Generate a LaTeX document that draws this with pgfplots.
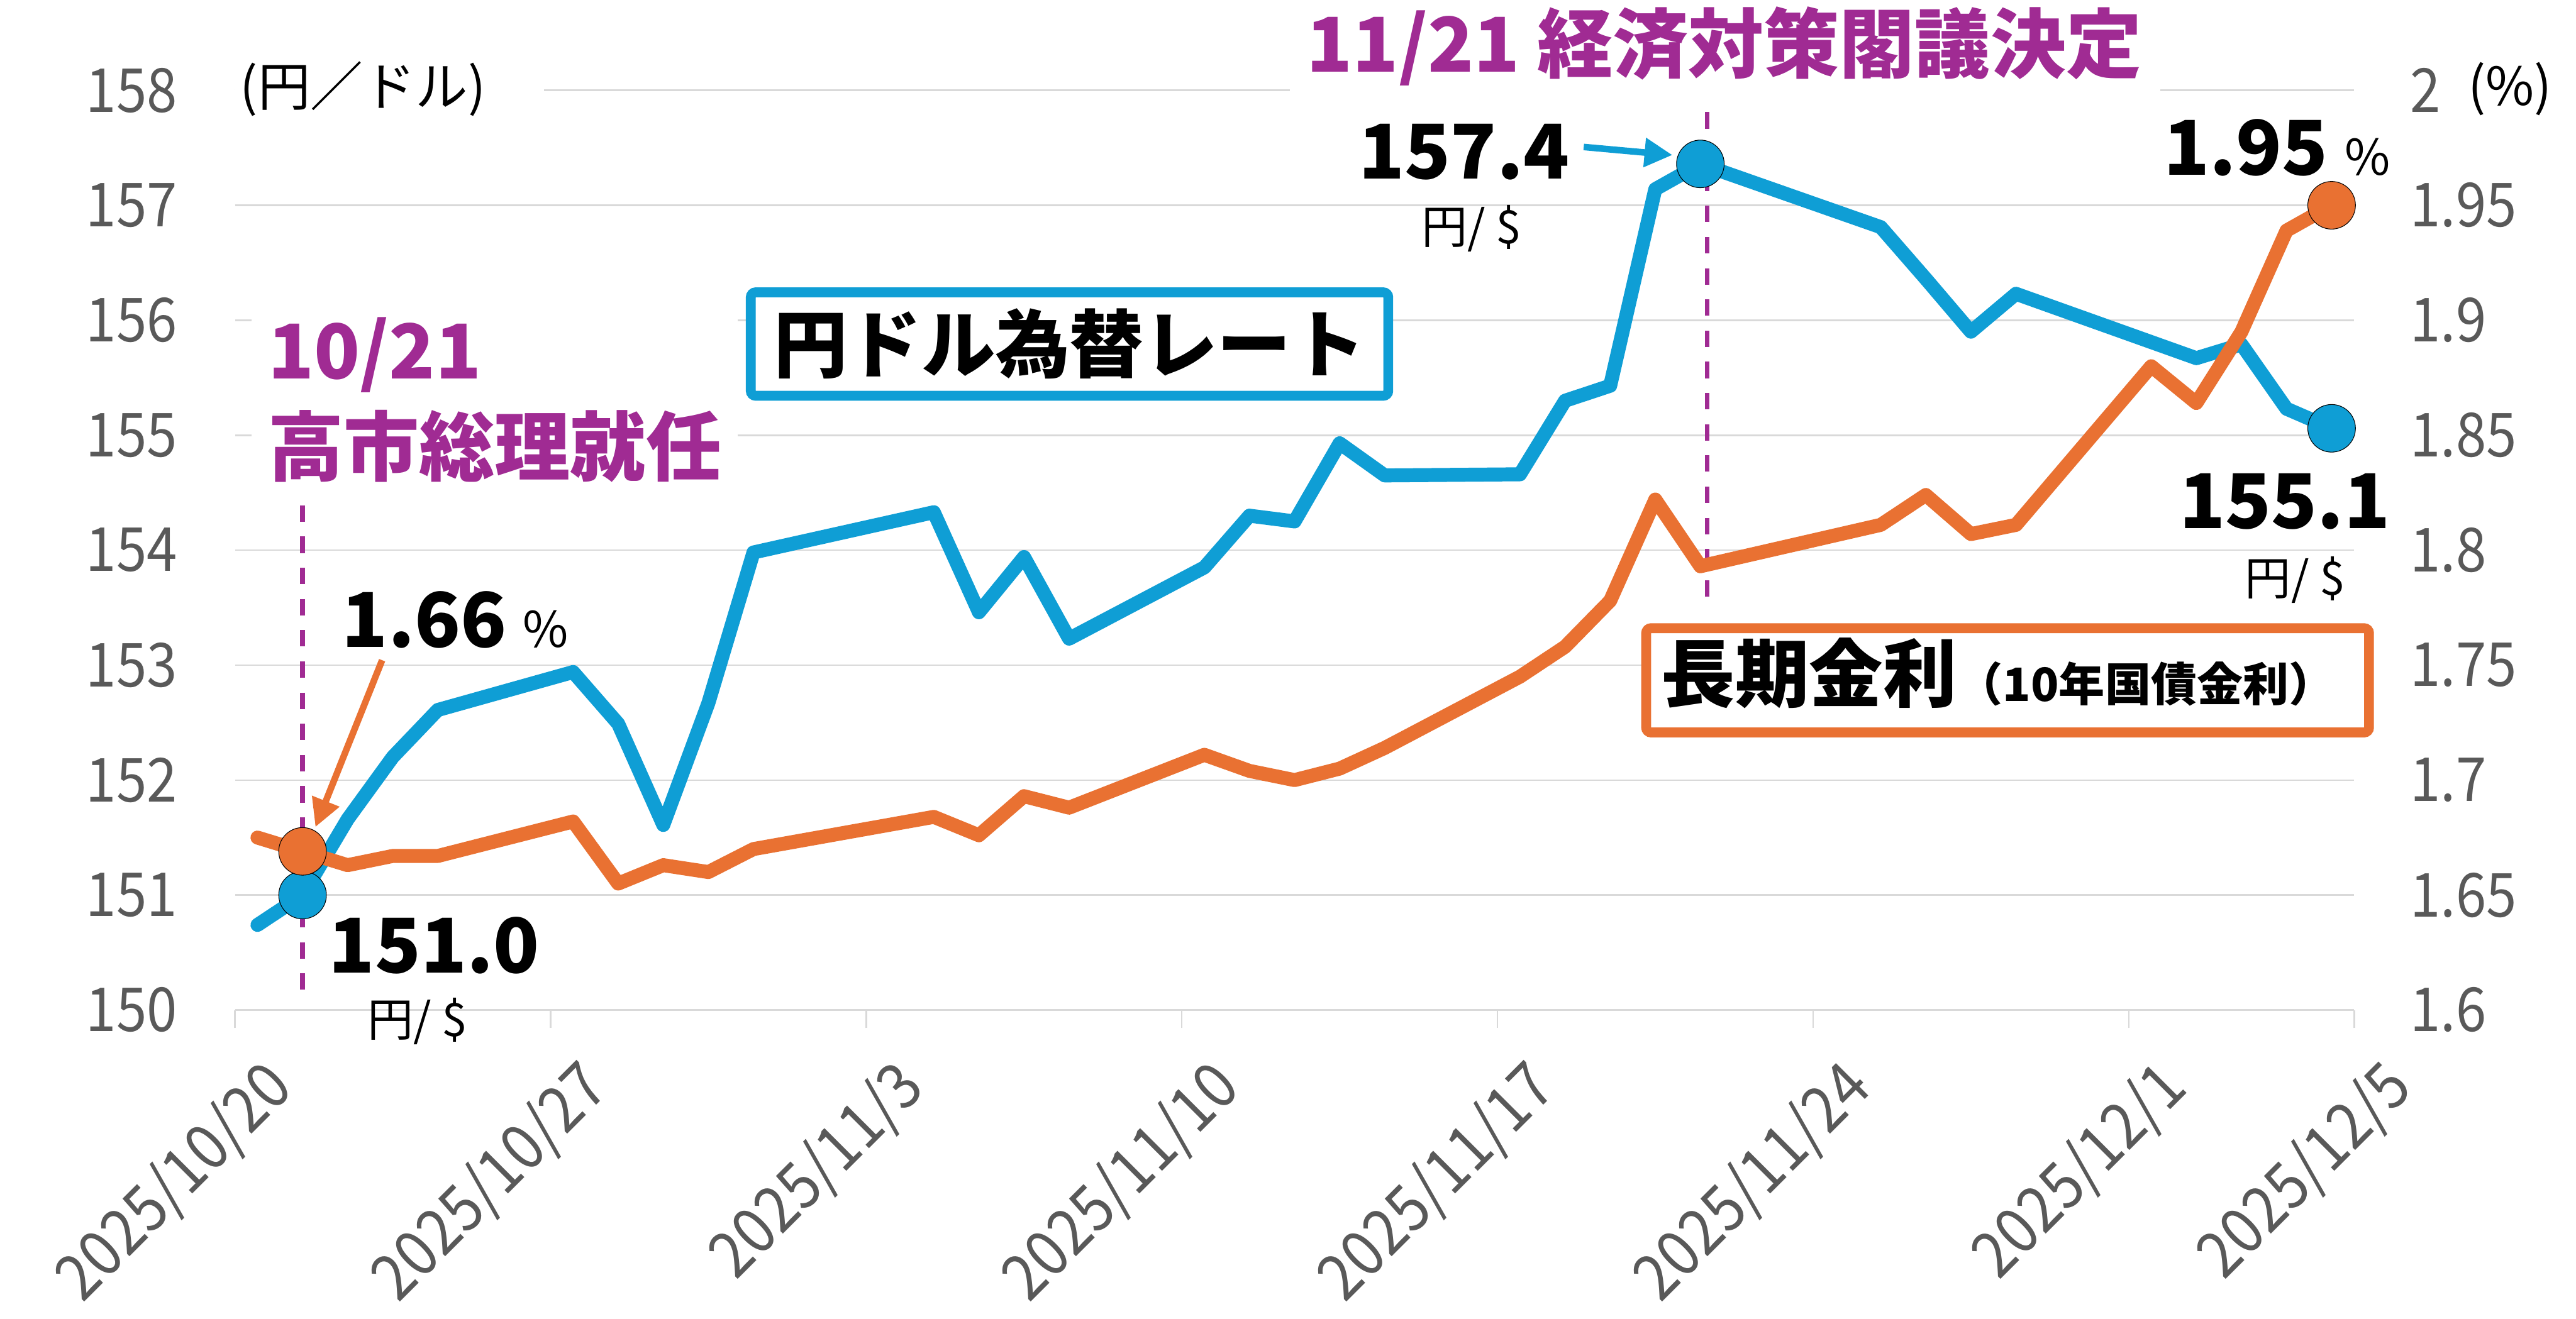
\documentclass[border=0pt]{standalone}
\usepackage{fontspec}
\setmainfont{Noto Sans CJK JP}
\newfontfamily\tickfont[FakeStretch=0.9]{Noto Sans CJK JP}
\usepackage{pgfplots}
\usepackage{pgfplotstable}
\pgfplotsset{compat=1.18}
\usetikzlibrary{arrows.meta}

\definecolor{cblue}{HTML}{0F9ED5}
\definecolor{corange}{HTML}{E97132}
\definecolor{cpurple}{HTML}{A02B93}
\definecolor{ctick}{HTML}{595959}
\definecolor{cgrid}{HTML}{D9D9D9}
\newcommand{\fs}[1]{\fontsize{#1}{#1}\selectfont}

\pgfplotstableread{
x y
0.5 150.74
1.5 151.00
2.5 151.66
3.5 152.20
4.5 152.61
7.5 152.94
8.5 152.49
9.5 151.61
10.5 152.67
11.5 153.98
15.5 154.33
16.5 153.46
17.5 153.94
18.5 153.23
21.5 153.85
22.5 154.30
23.5 154.25
24.5 154.93
25.5 154.65
28.5 154.66
29.5 155.30
30.5 155.43
31.5 157.14
32.5 157.36
36.5 156.81
37.5 156.36
38.5 155.90
39.5 156.23
42.5 155.81
43.5 155.67
44.5 155.79
45.5 155.23
46.5 155.06
}\usdjpy

\pgfplotstableread{
x y
0.5 1.675
1.5 1.669
2.5 1.663
3.5 1.667
4.5 1.667
7.5 1.682
8.5 1.655
9.5 1.663
10.5 1.660
11.5 1.670
15.5 1.684
16.5 1.676
17.5 1.693
18.5 1.688
21.5 1.711
22.5 1.704
23.5 1.700
24.5 1.705
25.5 1.714
28.5 1.745
29.5 1.758
30.5 1.778
31.5 1.822
32.5 1.793
36.5 1.811
37.5 1.824
38.5 1.807
39.5 1.811
42.5 1.880
43.5 1.864
44.5 1.895
45.5 1.939
46.5 1.950
}\jgb

\begin{document}
\begin{tikzpicture}[x=1pt,y=1pt]
\useasboundingbox (0,0) rectangle (1568,803);

\begin{axis}[
  at={(143pt,188pt)}, anchor=south west,
  scale only axis, width=1290pt, height=560pt,
  xmin=0, xmax=47, ymin=150, ymax=158,
  xtick={0,7,14,21,28,35,42,47},
  xticklabels={2025/10/20,2025/10/27,2025/11/3,2025/11/10,2025/11/17,2025/11/24,2025/12/1,2025/12/5},
  ytick={150,151,152,153,154,155,156,157,158},
  yticklabels={150,151,152,153,154,155,156,157,158},
  ymajorgrids, major grid style={draw=cgrid, line width=1pt},
  axis line style={draw=none},
  tick align=outside, major tick length=11pt,
  xtick pos=left, ytick pos=left,
  ytick style={draw=none},
  xtick style={draw=cgrid, line width=1pt},
  ticklabel style={font=\tickfont\fs{37}, text=ctick},
  xticklabel style={font=\tickfont\fs{39}, xshift=15pt, yshift=-16pt, rotate=45, anchor=north east, inner sep=0pt},
  yticklabel style={anchor=east, inner sep=0pt, xshift=-24pt},
  clip=false,
  /pgf/number format/assume math mode=true,
]
\draw[cpurple, line width=3pt, dash pattern=on 10pt off 9pt] (axis cs:1.5,154.39) -- (axis cs:1.5,150.16);
\draw[cpurple, line width=3pt, dash pattern=on 10pt off 9pt] (axis cs:32.65,157.81) -- (axis cs:32.65,153.57);
\addplot[cblue, line width=8.5pt, line join=round, line cap=round, no marks] table[x=x,y=y] {\usdjpy};
\addplot[only marks, mark=*, mark size=14.5pt, mark options={fill=cblue, draw=none}] coordinates {(1.5,151.00) (32.5,157.36) (46.5,155.06)};
\end{axis}

\begin{axis}[
  at={(143pt,188pt)}, anchor=south west,
  scale only axis, width=1290pt, height=560pt,
  xmin=0, xmax=47, ymin=1.6, ymax=2,
  axis x line=none, axis y line*=right,
  axis line style={draw=none},
  ytick={1.6,1.65,1.7,1.75,1.8,1.85,1.9,1.95,2},
  yticklabels={1.6,1.65,1.7,1.75,1.8,1.85,1.9,1.95,2},
  tick align=outside, major tick length=11pt,
  ytick style={draw=none},
  ticklabel style={font=\tickfont\fs{37}, text=ctick},
  yticklabel style={anchor=west, inner sep=0pt, xshift=23pt},
  clip=false,
  /pgf/number format/assume math mode=true,
]
\addplot[corange, line width=8.5pt, line join=round, line cap=round, no marks] table[x=x,y=y] {\jgb};
\addplot[only marks, mark=*, mark size=14.5pt, mark options={fill=corange, draw=none}] coordinates {(1.5,1.669) (46.5,1.95)};
\end{axis}

% axis unit labels
\fill[white] (143,742) rectangle (331,756);
\node[anchor=west, inner sep=0pt, font=\fs{32}] at (146,749) {(円／ドル)};
\node[anchor=west, inner sep=0pt, font=\fs{32}] at (1502,749) {(\%)};

% title
\fill[white] (785,741) rectangle (1315,803);
\node[font=\fs{46}\bfseries, text=cpurple, inner sep=0pt] at (1049.5,775) {11/21 経済対策閣議決定};

% 10/21 annotation
\fill[white] (153,503) rectangle (449,618);
\node[anchor=west, inner sep=0pt, font=\fs{46}\bfseries, text=cpurple] at (163,587) {10/21};
\node[anchor=west, inner sep=0pt, font=\fs{46}\bfseries, text=cpurple] at (163,531.3) {高市総理就任};

% series boxes
\draw[cblue, line width=6pt, fill=white, rounded corners=3pt] (457,562) rectangle (845,625);
\node[font=\fs{45}\bfseries, inner sep=0pt] at (651,593.5) {円ドル為替レート};
\draw[corange, line width=6pt, fill=white, rounded corners=3pt] (1002,357) rectangle (1442,420.5);
\node[anchor=base west, inner sep=0pt] at (1011,376) {{\fs{45}\bfseries 長期金利}{\fs{28}\bfseries （10年国債金利）}};

% value labels
\node[anchor=base west, inner sep=0pt] at (208,409) {{\fs{46}\bfseries 1.66}\hspace{10pt}{\fs{30}\%}};
\node[anchor=base west, inner sep=0pt] at (200,210.6) {\fs{46}\bfseries 151.0};
\node[font=\fs{28}, inner sep=0pt] at (254,181) {円/ \$};
\node[anchor=base east, inner sep=0pt] at (955.5,694.2) {\fs{46}\bfseries 157.4};
\node[font=\fs{28}, inner sep=0pt] at (895.7,664) {円/ \$};
\node[anchor=base east, inner sep=0pt] at (1455,696.4) {{\fs{46}\bfseries 1.95}\hspace{10pt}{\fs{30}\%}};
\node[anchor=base east, inner sep=0pt] at (1455,481.2) {\fs{46}\bfseries 155.1};
\node[font=\fs{28}, inner sep=0pt] at (1397,450) {円/ \$};

% arrows
\draw[corange, line width=4pt, -{Triangle[length=17pt,width=17pt]}] (232.6,401) -- (192,299.4);
\draw[cblue, line width=4pt, -{Triangle[length=17pt,width=17pt]}] (964,713.5) -- (1018,708.6);
\end{tikzpicture}
\end{document}
